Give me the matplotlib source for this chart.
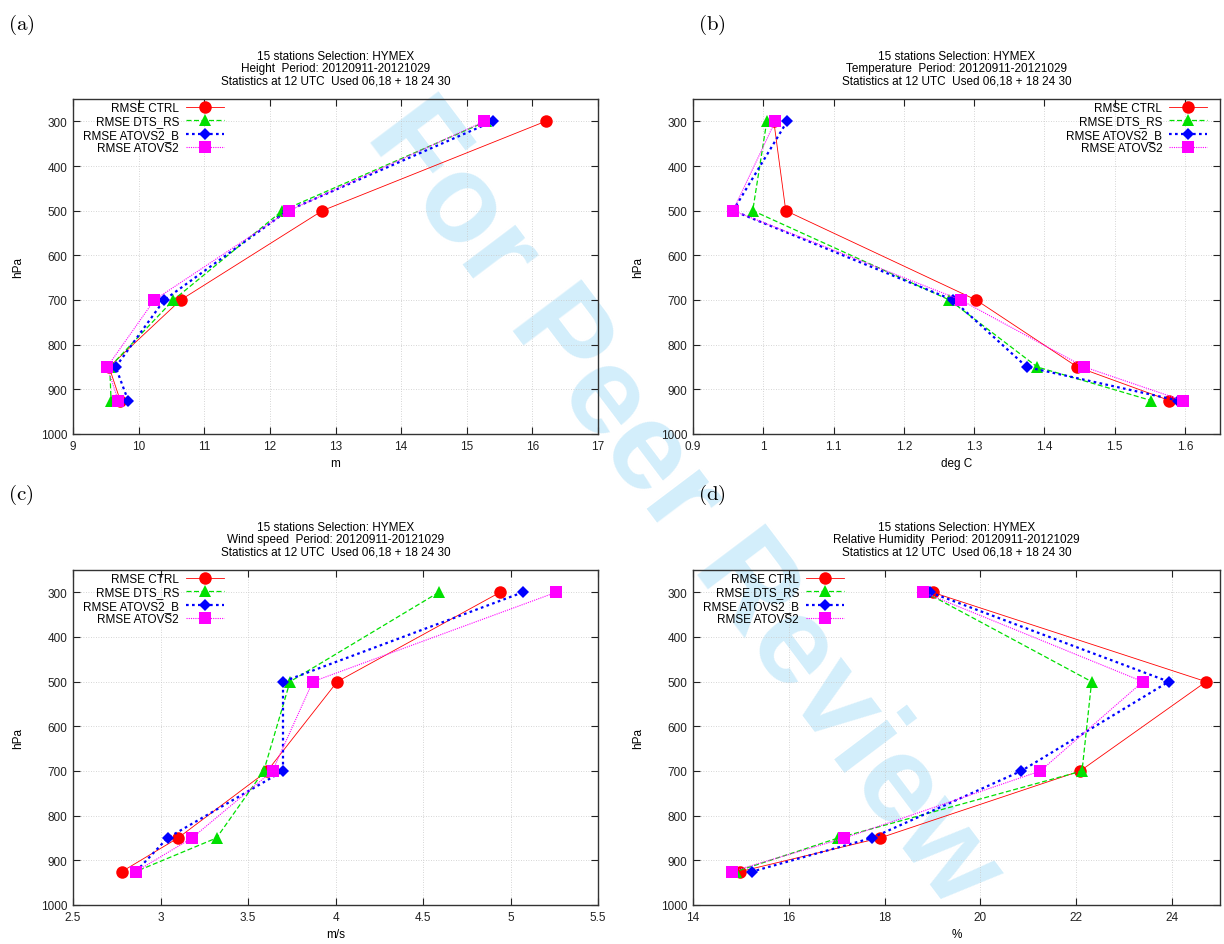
import matplotlib
matplotlib.use('Agg')
import matplotlib.pyplot as plt
from matplotlib.ticker import FuncFormatter, MultipleLocator

plt.rcParams['font.family'] = ['Liberation Sans', 'DejaVu Sans']
plt.rcParams['mathtext.fontset'] = 'cm'

levels = [300, 500, 700, 850, 925]
series_names = ['RMSE CTRL', 'RMSE DTS_RS', 'RMSE ATOVS2_B', 'RMSE ATOVS2']

# Height (m)
height_ctrl = [16.2, 12.80, 10.64, 9.55, 9.72]
height_dts = [15.30, 12.19, 10.53, 9.56, 9.58]
height_atb = [15.40, 12.27, 10.39, 9.65, 9.84]
height_at = [15.27, 12.29, 10.24, 9.52, 9.69]

# Temperature (deg C)
temp_ctrl = [1.015, 1.032, 1.303, 1.447, 1.578]
temp_dts = [1.005, 0.985, 1.265, 1.390, 1.552]
temp_atb = [1.034, 0.957, 1.270, 1.375, 1.590]
temp_at = [1.017, 0.957, 1.281, 1.457, 1.597]

# Wind speed (m/s)
wind_ctrl = [4.94, 4.01, 3.61, 3.10, 2.78]
wind_dts = [4.59, 3.74, 3.59, 3.32, 2.86]
wind_atb = [5.07, 3.70, 3.70, 3.04, 2.86]
wind_at = [5.26, 3.87, 3.64, 3.18, 2.86]

# Relative humidity (%)
rh_ctrl = [19.0, 24.71, 22.08, 17.90, 14.99]
rh_dts = [18.85, 22.32, 22.12, 17.03, 14.90]
rh_atb = [18.95, 23.93, 20.85, 17.73, 15.24]
rh_at = [18.81, 23.39, 21.25, 17.16, 14.81]

panels = [
    ('(a)', 'Height', 'm', [height_ctrl, height_dts, height_atb, height_at], (9, 17), 1, 'upper left'),
    ('(b)', 'Temperature', 'deg C', [temp_ctrl, temp_dts, temp_atb, temp_at], (0.9, 1.65), 0.1, 'upper right'),
    ('(c)', 'Wind speed', 'm/s', [wind_ctrl, wind_dts, wind_atb, wind_at], (2.5, 5.5), 0.5, 'upper left'),
    ('(d)', 'Relative Humidity', '%', [rh_ctrl, rh_dts, rh_atb, rh_at], (14, 25), 2, 'upper left'),
]

styles = [
    dict(color='#ff0000', ls='-', lw=0.6, marker='o', ms=9),
    dict(color='#00e000', ls=(0, (4, 2)), lw=0.9, marker='^', ms=8.5),
    dict(color='#0000ff', ls=(0, (1.2, 1.5)), lw=1.6, marker='D', ms=6.5),
    dict(color='#ff00ff', ls=(0, (1, 1)), lw=0.8, marker='s', ms=8.5),
]

W, H = 1224, 945
fig = plt.figure(figsize=(W / 100, H / 100), dpi=100)

positions = [(73, 100), (693, 100), (73, 571), (693, 571)]
label_pos = [(8, 25), (698, 25), (8, 495), (698, 495)]
widths = [525, 527, 525, 527]
ax_h = 335

for i, (lab, var, unit, data, xlim, step, loc) in enumerate(panels):
    x0, y0 = positions[i]
    ax = fig.add_axes([x0 / W, 1 - (y0 + ax_h) / H, widths[i] / W, ax_h / H])
    ax.patch.set_alpha(0)
    for vals, name, st in zip(data, series_names, styles):
        ax.plot(vals, levels, label=name, color=st['color'], ls=st['ls'], lw=st['lw'],
                marker=st['marker'], ms=st['ms'], mec=st['color'], mew=0, zorder=3)
    ax.set_xlim(*xlim)
    ax.set_ylim(1000, 250)
    ax.xaxis.set_major_locator(MultipleLocator(step))
    ax.set_yticks(range(300, 1001, 100))
    ax.xaxis.set_major_formatter(FuncFormatter(lambda v, p: '%g' % round(v, 3)))
    ax.tick_params(direction='in', length=5, width=0.8, top=True, right=True,
                   labelsize=8.5, pad=4, colors='#222222')
    ax.grid(True, ls=(0, (1, 2)), lw=0.6, color='#c8c8c8')
    for sp in ax.spines.values():
        sp.set_linewidth(1.0)
        sp.set_color('#333333')
    ax.set_xlabel(unit, fontsize=8.5, labelpad=4)
    ax.set_ylabel('hPa', fontsize=8.5, labelpad=12)
    ax.set_title('15 stations Selection: HYMEX\n%s  Period: 20120911-20121029\n'
                 'Statistics at 12 UTC  Used 06,18 + 18 24 30' % var,
                 fontsize=8.5, linespacing=1.05, pad=11)
    if loc == 'upper left':
        anchor = (10 / widths[i], 1 - 3 / ax_h)
    else:
        anchor = (1 - 13 / widths[i], 1 - 3 / ax_h)
    ax.legend(loc=loc, bbox_to_anchor=anchor, frameon=False, markerfirst=False,
              fontsize=8.5, handlelength=3.2, handletextpad=0.6, labelspacing=0.12,
              borderpad=0, borderaxespad=0, numpoints=1)
    lx, ly = label_pos[i]
    fig.text(lx / W, 1 - ly / H, r'$\mathrm{%s}$' % lab, fontsize=15,
             ha='left', va='center')

fig.text(0.558, 0.466, 'For Peer Review', fontsize=90, fontweight='bold', color='#d3eefb',
         rotation=-53, ha='center', va='center', rotation_mode='anchor', zorder=-1)

fig.savefig('out.png', dpi=100)
